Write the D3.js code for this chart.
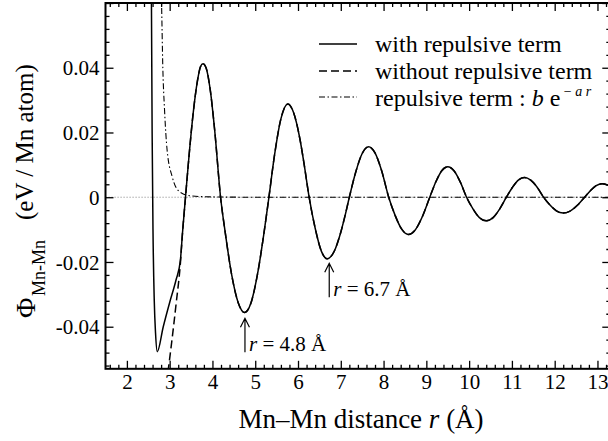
<!DOCTYPE html>
<html>
<head>
<meta charset="utf-8">
<script src="https://cdn.jsdelivr.net/npm/d3@7"></script>
<style>
  body { margin: 0; background: #fff; }
  svg { display: block; }
  svg text { font-family: "Liberation Serif", "Times New Roman", serif; fill: #000; }
</style>
</head>
<body>
<svg id="chart" width="608" height="441" font-family="Liberation Serif, Times New Roman, serif"></svg>
<script>
// values (r in Å, phi in eV / Mn atom)

// oscillating part, "without repulsive term" (dashed)
const rOsc = [2.96, 3.05, 3.15, 3.25, 3.30, 3.37, 3.45, 3.55, 3.65, 3.72, 3.78, 3.85, 3.95, 4.05, 4.19,
  4.30, 4.45, 4.60, 4.75, 4.90, 5.05, 5.20, 5.32, 5.45, 5.60, 5.76, 5.90, 6.05, 6.15, 6.26,
  6.40, 6.55, 6.68, 6.85, 7.00, 7.10, 7.20, 7.35, 7.50, 7.65, 7.80, 7.95, 8.12,
  8.27, 8.42, 8.58, 8.74, 8.90, 9.08, 9.22, 9.36, 9.50, 9.65, 9.80, 9.94,
  10.09, 10.24, 10.40, 10.56, 10.72, 10.87, 11.01, 11.15, 11.29, 11.44, 11.59, 11.74,
  11.89, 12.04, 12.20, 12.36, 12.53, 12.70, 12.84, 12.97, 13.11, 13.30];
const phiOsc = [-0.054, -0.0445, -0.033, -0.0205, -0.011, 0.000, 0.0124, 0.026, 0.036, 0.0403, 0.0412, 0.0400, 0.033, 0.021, 0.000,
  -0.011, -0.024, -0.0325, -0.0356, -0.0327, -0.024, -0.0115, 0.000, 0.0129, 0.0242, 0.0288, 0.026, 0.0176, 0.0096, 0.000,
  -0.0095, -0.0168, -0.0190, -0.0166, -0.0108, -0.0057, 0.000, 0.0078, 0.0135, 0.0156, 0.0137, 0.0084, 0.000,
  -0.0056, -0.0098, -0.0115, -0.0101, -0.0062, 0.000, 0.0047, 0.0082, 0.0094, 0.0081, 0.0045, 0.000,
  -0.0036, -0.0063, -0.0073, -0.0063, -0.0035, 0.000, 0.0030, 0.0053, 0.0061, 0.0053, 0.0031, 0.000,
  -0.0024, -0.0042, -0.0049, -0.0043, -0.0025, 0.000, 0.0021, 0.0036, 0.0042, 0.0034];

// short range part of "with repulsive term" (solid), joins the dashed one at r = 3.3
const rShort = [2.570, 2.590, 2.610, 2.640, 2.670, 2.710, 2.850, 3.000, 3.150, 3.250];
const phiShort = [0.070, 0.020, -0.010, -0.032, -0.042, -0.0477, -0.040, -0.0325, -0.0255, -0.0195];

// repulsive term b e^(-a r) (dash-dot)
const rRep = [2.79, 2.81, 2.84, 2.88, 2.94, 3.06, 3.24, 3.50, 4.00, 5.00, 7.00, 10.00, 13.30];
const phiRep = [0.070, 0.060, 0.040, 0.027, 0.0146, 0.0063, 0.0016, 0.0004, 0.0001, 0, 0, 0, 0];

const xTicks = [2, 3, 4, 5, 6, 7, 8, 9, 10, 11, 12, 13];
const yTicks = [-0.04, -0.02, 0, 0.02, 0.04, 0.06];
const yTickLabels = ["-0.04", "-0.02", "0", "0.02", "0.04", ""];

const annR = [4.76, 6.73];
const annPhi = [-0.0374, -0.0204];
const annLabel = ["4.8", "6.7"];

const serif = "Liberation Serif, Times New Roman, serif";
const svg = d3.select("#chart");
const pLeft = 105.5, pRight = 610.3, pTop = 3, pBottom = 368.8;

const x = d3.scaleLinear().domain([1.5, 13.3]).range([pLeft, pRight]);
const y = d3.scaleLinear().domain([-0.053, 0.06]).range([pBottom, pTop]);

svg.append("defs").append("clipPath").attr("id", "plot")
  .append("rect").attr("x", pLeft).attr("y", pTop).attr("width", pRight - pLeft).attr("height", pBottom - pTop);

// zero reference line
svg.append("line")
  .attr("x1", pLeft).attr("x2", pRight).attr("y1", y(0)).attr("y2", y(0))
  .attr("stroke", "#777").attr("stroke-width", 0.8).attr("stroke-dasharray", "1.2,1.8");

const line = d3.line().x(d => x(d[0])).y(d => y(d[1])).curve(d3.curveMonotoneX);
const g = svg.append("g").attr("clip-path", "url(#plot)");

const oscPts = rOsc.map((r, i) => [r, phiOsc[i]]);
const withPts = rShort.map((r, i) => [r, phiShort[i]]).concat(oscPts.filter(d => d[0] >= 3.3));
const repPts = rRep.map((r, i) => [r, phiRep[i]]);

g.append("path").datum(repPts).attr("d", line)
  .attr("fill", "none").attr("stroke", "#000").attr("stroke-width", 1.1)
  .attr("stroke-dasharray", "6,2.5,1.5,2.5");
g.append("path").datum(oscPts).attr("d", line)
  .attr("fill", "none").attr("stroke", "#000").attr("stroke-width", 1.5)
  .attr("stroke-dasharray", "8,4");
g.append("path").datum(withPts).attr("d", line)
  .attr("fill", "none").attr("stroke", "#000").attr("stroke-width", 1.5);

// axes, ticks point inward on all four sides
const xMinor = d3.range(1.6, 13.3, 0.2).filter(v => Math.abs(v - Math.round(v)) > 0.01);
const yMinor = d3.range(-0.052, 0.0601, 0.004).filter(v => Math.abs(v / 0.02 - Math.round(v / 0.02)) > 0.01);

function ticks(axis, vals, size, tx, ty) {
  const a = svg.append("g").attr("transform", `translate(${tx},${ty})`)
    .call(axis.tickValues(vals).tickSize(-size).tickSizeOuter(0))
    .attr("font-family", serif);
  a.select(".domain").remove();
  a.selectAll("line").attr("stroke-width", 1.3);
  return a;
}

const xb = ticks(d3.axisBottom(x).tickFormat(d => d), xTicks, 8, 0, pBottom);
xb.selectAll("text").attr("font-size", 21).attr("dy", 0).attr("y", 20);
ticks(d3.axisBottom(x).tickFormat(""), xMinor, 4, 0, pBottom);
ticks(d3.axisTop(x).tickFormat(""), xTicks, 8, 0, pTop);
ticks(d3.axisTop(x).tickFormat(""), xMinor, 4, 0, pTop);

const yl = ticks(d3.axisLeft(y).tickFormat((d, i) => yTickLabels[i]), yTicks, 8, pLeft, 0);
yl.selectAll("text").attr("font-size", 21).attr("x", -6).attr("dy", "0.34em");
ticks(d3.axisLeft(y).tickFormat(""), yMinor, 4, pLeft, 0);
ticks(d3.axisRight(y).tickFormat(""), yTicks, 8, pRight, 0);
ticks(d3.axisRight(y).tickFormat(""), yMinor, 4, pRight, 0);

svg.append("rect").attr("x", pLeft).attr("y", pTop).attr("width", pRight - pLeft).attr("height", pBottom - pTop)
  .attr("fill", "none").attr("stroke", "#000").attr("stroke-width", 2);

// annotations
annR.forEach((r, i) => {
  const ax = x(r), ay = y(annPhi[i]), ab = ay + 34;
  svg.append("path")
    .attr("d", `M${ax},${ab}L${ax},${ay}M${ax - 4.5},${ay + 9}L${ax},${ay}L${ax + 4.5},${ay + 9}`)
    .attr("fill", "none").attr("stroke", "#000").attr("stroke-width", 1.2);
  const t = svg.append("text").attr("x", ax + 4).attr("y", ab - 1).attr("font-size", 21);
  t.append("tspan").attr("font-style", "italic").text("r");
  t.append("tspan").text(" = " + annLabel[i] + " Å");
});

// legend
const legendY = [44, 71, 97];
const dashes = [null, "8,4", "6,2.5,1.5,2.5"];
legendY.forEach((ly, i) => {
  svg.append("line").attr("x1", 319).attr("x2", 357).attr("y1", ly).attr("y2", ly)
    .attr("stroke", "#000").attr("stroke-width", i === 2 ? 1.1 : 1.5)
    .attr("stroke-dasharray", dashes[i]);
});
svg.append("text").attr("x", 375).attr("y", 52).attr("font-size", 24).text("with repulsive term");
svg.append("text").attr("x", 375).attr("y", 79).attr("font-size", 24).text("without repulsive term");
const l3 = svg.append("text").attr("x", 375).attr("y", 106).attr("font-size", 24);
l3.append("tspan").text("repulsive term : ");
l3.append("tspan").attr("font-style", "italic").text("b");
l3.append("tspan").text(" e");
l3.append("tspan").attr("font-size", 14).attr("dy", -10).text(" − ");
l3.append("tspan").attr("font-size", 14).attr("font-style", "italic").text("a r");

// axis titles
const xt = svg.append("text").attr("x", 361).attr("y", 428).attr("font-size", 27).attr("text-anchor", "middle");
xt.append("tspan").text("Mn–Mn distance ");
xt.append("tspan").attr("font-style", "italic").text("r");
xt.append("tspan").text(" (Å)");

svg.append("text").attr("transform", "translate(35,318) rotate(-90)").attr("font-size", 28).text("Φ");
svg.append("text").attr("transform", "translate(45,296) rotate(-90)").attr("font-size", 18).text("Mn-Mn");
svg.append("text").attr("transform", "translate(33,220) rotate(-90)").attr("font-size", 25).text("(eV / Mn atom)");
</script>
</body>
</html>
